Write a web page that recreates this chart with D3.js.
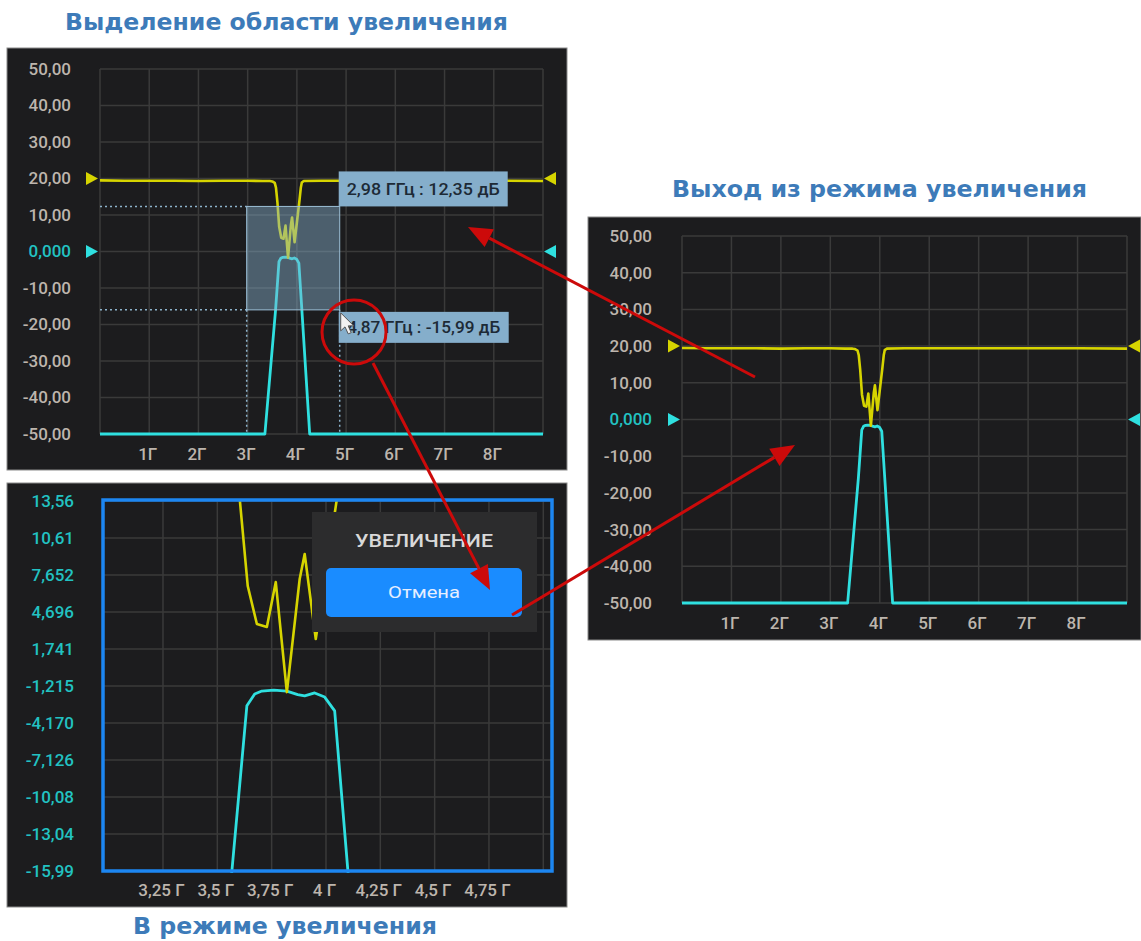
<!DOCTYPE html>
<html><head><meta charset="utf-8">
<script src="https://cdnjs.cloudflare.com/ajax/libs/d3/7.8.5/d3.min.js"></script>
<style>
html,body{margin:0;padding:0;background:#fff;}
svg{display:block;}
</style></head>
<body>
<svg id="c" width="1141" height="941"></svg>
<script>
// ---------- DATA ----------
const fullXTicks = [1, 2, 3, 4, 5, 6, 7, 8];
const fullXLabels = ["1Г", "2Г", "3Г", "4Г", "5Г", "6Г", "7Г", "8Г"];
const fullYTicks = [50, 40, 30, 20, 10, 0, -10, -20, -30, -40, -50];
const fullYLabels = ["50,00", "40,00", "30,00", "20,00", "10,00", "0,000", "-10,00", "-20,00", "-30,00", "-40,00", "-50,00"];

const zoomXTicks = [3.25, 3.5, 3.75, 4, 4.25, 4.5, 4.75];
const zoomXLabels = ["3,25 Г", "3,5 Г", "3,75 Г", "4 Г", "4,25 Г", "4,5 Г", "4,75 Г"];
const zoomYTicks = [13.56, 10.61, 7.652, 4.696, 1.741, -1.215, -4.170, -7.126, -10.08, -13.04, -15.99];
const zoomYLabels = ["13,56", "10,61", "7,652", "4,696", "1,741", "-1,215", "-4,170", "-7,126", "-10,08", "-13,04", "-15,99"];

// yellow trace (GHz, dB)
const yellowFreq = [0, 0.5, 1, 1.5, 2, 2.5, 3, 3.3, 3.45, 3.5, 3.55, 3.575, 3.604, 3.64, 3.682, 3.728, 3.769, 3.82, 3.879, 3.902, 3.953, 4.05, 4.08, 4.1, 4.14, 4.5, 5, 6, 7, 8, 9];
const yellowDb   = [19.5, 19.4, 19.4, 19.4, 19.3, 19.4, 19.4, 19.3, 19.3, 19.2, 18.8, 17.5, 13.56, 6.77, 3.74, 3.5, 7.09, -1.7, 7.33, 9.33, 2.54, 13.7, 17.5, 18.9, 19.3, 19.4, 19.4, 19.4, 19.4, 19.4, 19.3];

// cyan trace (GHz, dB)
const cyanFreq = [0, 3.35, 3.567, 3.636, 3.672, 3.705, 3.76, 3.82, 3.87, 3.902, 3.948, 3.994, 4.04, 4.10, 4.26, 9];
const cyanDb   = [-50, -50, -16.0, -2.8, -1.86, -1.62, -1.55, -1.62, -1.9, -2.0, -1.77, -2.1, -3.2, -15.8, -50, -50];

// zoom selection
const selFreq = [2.98, 4.87];
const selDb = [12.35, -15.99];
const selLabels = ["2,98 ГГц : 12,35 дБ", "4,87 ГГц : -15,99 дБ"];

const titles = ["Выделение области увеличения", "Выход из режима увеличения", "В режиме увеличения"];
const popupTitle = "УВЕЛИЧЕНИЕ";
const popupButton = "Отмена";

// ---------- STYLE ----------
const BG = "#1c1c1e", GRID = "#3a3a3a", LABEL = "#bdb5ad", CYANLBL = "#22c2c2";
const YEL = "#d6d400", CYAN = "#2fe0e0", RED = "#cc0a0a", TITLE = "#3d7bb9";

const svg = d3.select("#c");
const defs = svg.append("defs");
const yellowPts = yellowFreq.map((f, i) => [f, yellowDb[i]]);
const cyanPts = cyanFreq.map((f, i) => [f, cyanDb[i]]);

function panel(cfg) {
  const g = svg.append("g");
  g.append("rect").attr("x", cfg.bg[0]).attr("y", cfg.bg[1]).attr("width", cfg.bg[2]).attr("height", cfg.bg[3])
    .attr("fill", BG).attr("stroke", "#8a8a8a").attr("stroke-width", 1);
  const x = d3.scaleLinear().domain(cfg.xd).range([cfg.px[0], cfg.px[1]]);
  const y = d3.scaleLinear().domain(cfg.yd).range([cfg.py[1], cfg.py[0]]);
  g.append("g").selectAll("line").data(cfg.gridX).join("line")
    .attr("x1", d => x(d)).attr("x2", d => x(d)).attr("y1", cfg.py[0]).attr("y2", cfg.py[1])
    .attr("stroke", GRID).attr("stroke-width", 1.5);
  g.append("g").selectAll("line").data(cfg.yTicks).join("line")
    .attr("x1", cfg.px[0]).attr("x2", cfg.px[1]).attr("y1", d => y(d)).attr("y2", d => y(d))
    .attr("stroke", GRID).attr("stroke-width", 1.5);
  const yAxis = d3.axisLeft(y).tickValues(cfg.yTicks).tickSize(0).tickPadding(0)
    .tickFormat((d, i) => cfg.yLabels[i]);
  const ya = g.append("g").attr("transform", `translate(${cfg.px[0] - cfg.yLabelGap},0)`).call(yAxis);
  ya.select(".domain").remove();
  ya.selectAll("text").attr("font-family", "Roboto, 'Noto Sans', sans-serif").attr("font-size", 17)
    .attr("font-weight", 500).attr("fill", (d, i) => cfg.yColor(d, i));
  const xAxis = d3.axisBottom(x).tickValues(cfg.xTicks).tickSize(0).tickPadding(0)
    .tickFormat((d, i) => cfg.xLabels[i]);
  const xa = g.append("g").attr("transform", `translate(-2,${cfg.xLabelY})`).call(xAxis);
  xa.select(".domain").remove();
  xa.selectAll("text").attr("font-family", "Roboto, 'Noto Sans', sans-serif").attr("font-size", 17)
    .attr("font-weight", 500).attr("fill", LABEL);
  const cid = "clip" + cfg.id;
  defs.append("clipPath").attr("id", cid).append("rect")
    .attr("x", cfg.px[0]).attr("y", cfg.py[0] - 1).attr("width", cfg.px[1] - cfg.px[0]).attr("height", cfg.py[1] - cfg.py[0] + 3);
  const line = d3.line().x(d => x(d[0])).y(d => y(d[1]));
  const tg = g.append("g").attr("clip-path", `url(#${cid})`);
  tg.append("path").attr("d", line(cyanPts)).attr("fill", "none").attr("stroke", CYAN).attr("stroke-width", 2.8).attr("stroke-linejoin", "round");
  tg.append("path").attr("d", line(yellowPts)).attr("fill", "none").attr("stroke", YEL).attr("stroke-width", 2.6).attr("stroke-linejoin", "round");
  if (cfg.markers) {
    const mk = [[20, YEL], [0, CYAN]];
    mk.forEach(([v, c]) => {
      const yy = y(v);
      const xl = cfg.px[0] - 2;
      g.append("path").attr("d", `M${xl},${yy} L${xl - 12},${yy - 6.5} L${xl - 12},${yy + 6.5} Z`).attr("fill", c);
      const xr = cfg.px[1] + 1;
      g.append("path").attr("d", `M${xr},${yy} L${xr + 12},${yy - 6.5} L${xr + 12},${yy + 6.5} Z`).attr("fill", c);
    });
  }
  return { g, x, y };
}

const fullGridX = [0, 1, 2, 3, 4, 5, 6, 7, 8, 9];

const p1 = panel({
  id: 1, bg: [7, 48, 560, 422], px: [100, 543], py: [69, 434], xd: [0, 9], yd: [-50, 50],
  gridX: fullGridX, xTicks: fullXTicks, xLabels: fullXLabels, yTicks: fullYTicks, yLabels: fullYLabels,
  yLabelGap: 29, xLabelY: 448, markers: true,
  yColor: (d) => d === 0 ? CYANLBL : LABEL
});
const p2 = panel({
  id: 2, bg: [588, 217, 553, 423], px: [682, 1127], py: [236, 603], xd: [0, 9], yd: [-50, 50],
  gridX: fullGridX, xTicks: fullXTicks, xLabels: fullXLabels, yTicks: fullYTicks, yLabels: fullYLabels,
  yLabelGap: 30, xLabelY: 617, markers: true,
  yColor: (d) => d === 0 ? CYANLBL : LABEL
});
const p3 = panel({
  id: 3, bg: [7, 483, 560, 424], px: [103, 552], py: [501, 871], xd: [2.974, 5.04], yd: [-15.99, 13.56],
  gridX: [3.25, 3.5, 3.75, 4, 4.25, 4.5, 4.75, 5.0], xTicks: zoomXTicks, xLabels: zoomXLabels,
  yTicks: zoomYTicks, yLabels: zoomYLabels, yLabelGap: 29, xLabelY: 884, markers: false,
  yColor: () => CYANLBL
});
p3.g.append("rect").attr("x", 103).attr("y", 500).attr("width", 449).attr("height", 371)
  .attr("fill", "none").attr("stroke", "#1c86f2").attr("stroke-width", 3.5);

// ---------- selection on panel 1 ----------
{
  const { g, x, y } = p1;
  const sx0 = x(selFreq[0]), sx1 = x(selFreq[1]), sy0 = y(selDb[0]), sy1 = y(selDb[1]);
  const dl = (x1, y1, x2, y2) => g.append("line").attr("x1", x1).attr("y1", y1).attr("x2", x2).attr("y2", y2)
    .attr("stroke", "#8db3cc").attr("stroke-width", 1.5).attr("stroke-dasharray", "2,3");
  dl(x(0), sy0, sx0, sy0);
  dl(x(0), sy1, sx0, sy1);
  dl(sx0, sy1, sx0, y(-50));
  dl(sx1, sy1, sx1, y(-50));
  g.append("rect").attr("x", sx0).attr("y", sy0).attr("width", sx1 - sx0).attr("height", sy1 - sy0)
    .attr("fill", "rgba(135,178,206,0.45)").attr("stroke", "#9cc0d8").attr("stroke-width", 1);
  const tips = [[sx1 - 1, sy0 - 35, 169, 35], [sx1 - 1, sy1 + 2, 170, 31]];
  tips.forEach((t, i) => {
    g.append("rect").attr("x", t[0]).attr("y", t[1]).attr("width", t[2]).attr("height", t[3]).attr("fill", "#85aecb");
    g.append("text").attr("x", t[0] + t[2] / 2).attr("y", t[1] + t[3] / 2 + 6).attr("text-anchor", "middle")
      .attr("font-family", "Roboto, 'Noto Sans', sans-serif").attr("font-size", 16.5).attr("font-weight", 500)
      .attr("fill", "#1d2a36").attr("textLength", 153).attr("lengthAdjust", "spacingAndGlyphs").text(selLabels[i]);
  });
  g.append("circle").attr("cx", 354).attr("cy", 332).attr("r", 32).attr("fill", "none").attr("stroke", RED).attr("stroke-width", 3);
  const cur = "M0,0 L0,18 L4.3,14 L7.5,21 L10.5,19.8 L7.5,13 L13,13 Z";
  g.append("path").attr("d", cur).attr("transform", `translate(${sx1 + 1},${sy1 + 3})`)
    .attr("fill", "#f2f2f2").attr("stroke", "#555").attr("stroke-width", 1);
}

// ---------- popup on zoom panel ----------
{
  const g = p3.g;
  g.append("rect").attr("x", 312).attr("y", 512).attr("width", 225).attr("height", 120).attr("fill", "#2c2c2d");
  g.append("text").attr("x", 424).attr("y", 547).attr("text-anchor", "middle")
    .attr("font-family", "Roboto, 'Noto Sans', sans-serif").attr("font-size", 18).attr("font-weight", 500)
    .attr("fill", "#d9d9d9").attr("textLength", 138).attr("lengthAdjust", "spacingAndGlyphs").text(popupTitle);
  g.append("rect").attr("x", 326).attr("y", 568).attr("width", 196).attr("height", 49).attr("rx", 5).attr("fill", "#1a8cff");
  g.append("text").attr("x", 424).attr("y", 598).attr("text-anchor", "middle")
    .attr("font-family", "Roboto, 'Noto Sans', sans-serif").attr("font-size", 17)
    .attr("fill", "#e6eeff").attr("textLength", 72).attr("lengthAdjust", "spacingAndGlyphs").text(popupButton);
}

// ---------- red arrows ----------
function arrow(x1, y1, x2, y2) {
  const ang = Math.atan2(y2 - y1, x2 - x1);
  const L = 24, W = 10;
  const bx = x2 - L * Math.cos(ang), by = y2 - L * Math.sin(ang);
  svg.append("line").attr("x1", x1).attr("y1", y1).attr("x2", bx).attr("y2", by)
    .attr("stroke", RED).attr("stroke-width", 3);
  const px = -Math.sin(ang) * W, py = Math.cos(ang) * W;
  svg.append("path").attr("d", `M${x2},${y2} L${bx + px},${by + py} L${bx - px},${by - py} Z`).attr("fill", RED);
}
arrow(755, 377, 468, 227);
arrow(373, 363, 490, 590);
arrow(512, 615, 795, 445);

// ---------- titles ----------
const tPos = [[286.5, 30, 443], [879.5, 197, 415], [285, 934, 304]];
titles.forEach((t, i) => {
  svg.append("text").attr("x", tPos[i][0]).attr("y", tPos[i][1]).attr("text-anchor", "middle")
    .attr("font-family", "'Liberation Sans Narrow', 'DejaVu Sans Condensed', 'Open Sans', sans-serif")
    .attr("font-size", 23).attr("font-weight", 700).attr("fill", TITLE)
    .attr("textLength", tPos[i][2]).attr("lengthAdjust", "spacingAndGlyphs").text(t);
});
</script>
</body></html>
